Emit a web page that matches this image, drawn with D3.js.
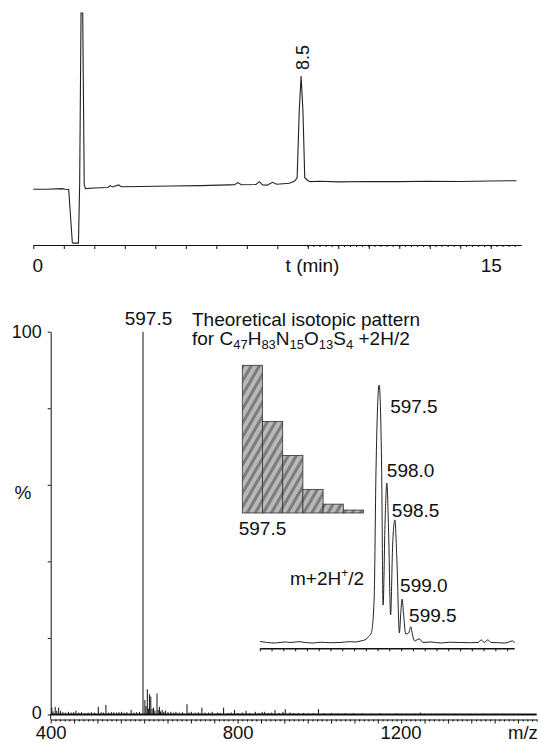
<!DOCTYPE html>
<html>
<head>
<meta charset="utf-8">
<script src="https://cdn.jsdelivr.net/npm/d3@7"></script>
<style>
  html, body { margin: 0; padding: 0; background: #fff; }
  svg text { font-family: "Liberation Sans", Arial, sans-serif; fill: #111; }
</style>
</head>
<body>
<div id="chart"></div>
<script>
// HPLC trace: [t (min), signal]
const chromTrace = [
  [0, 24.0], [0.45, 24.0], [0.95, 24.3], [1.05, 24.0], [1.16, 23.9],
  [1.28, 1.0], [1.31, 0.8], [1.48, 0.8], [1.52, 26], [1.565, 100], [1.62, 100],
  [1.67, 26], [1.71, 24.3], [2.0, 24.6], [2.45, 24.8], [2.52, 25.6], [2.6, 25.0],
  [2.8, 25.9], [2.88, 25.1], [3.5, 25.2], [4.5, 25.4], [5.5, 25.6], [6.4, 25.9],
  [6.6, 26.0], [6.71, 26.9], [6.82, 26.0], [7.3, 26.1], [7.41, 27.3], [7.52, 25.9],
  [7.67, 25.8], [7.84, 27.0], [7.98, 26.2], [8.4, 26.6], [8.57, 27.6], [8.65, 29],
  [8.72, 58], [8.78, 72.8], [8.84, 58], [8.9, 29], [9.0, 27.8], [9.08, 27.3],
  [9.4, 27.5], [10.0, 27.2], [11.0, 27.4], [12.0, 27.3], [13.0, 27.5], [14.0, 27.4],
  [15.0, 27.6], [15.84, 27.7]
];
const chromTickLabels = [0, 15];
const chromPeak = { t: 8.78, v: 72.8, label: "8.5" };

// ESI mass spectrum: [m/z, relative intensity %]
const specPeaks = [
  [402.4, 1.8], [405, 0.8], [409.6, 2.0], [413, 1.0], [417, 1.8], [421, 0.9],
  [426, 0.6], [432, 0.5], [438, 0.7], [444, 0.5], [449, 0.6], [454, 1.0],
  [460, 0.5], [466, 0.6], [473, 0.4], [480, 0.5], [487, 0.6], [494, 0.5],
  [501.9, 2.0], [508, 0.6], [513, 0.5], [518.2, 2.5], [524, 0.5], [530, 0.6],
  [535, 0.6], [541, 0.5], [546, 0.6], [551.5, 0.7], [557, 0.5], [563, 0.6],
  [572, 1.2], [578, 0.5], [584, 0.6], [590, 0.7], [597.5, 100], [601.6, 3.8],
  [604, 2.2], [606.8, 6.6], [609, 1.5], [611.3, 5.3], [614.2, 4.7], [617, 1.5],
  [620, 1.8], [623, 1.0], [627.5, 5.5], [630, 1.2], [632.6, 2.0], [635, 0.8],
  [638.6, 1.2], [642, 0.7], [645.9, 1.0], [651, 0.6], [657, 0.7], [663, 0.5],
  [668, 0.7], [675, 0.5], [682, 0.6], [691.7, 2.7], [696, 0.5], [701, 0.7],
  [709, 0.5], [716, 0.6], [723.5, 1.8], [730, 0.5], [738, 0.5], [745.6, 0.7],
  [756.7, 0.5], [763, 0.4], [770, 1.8], [779, 0.4], [786, 0.5], [793.5, 1.2],
  [801, 0.4], [810, 0.5], [818, 1.0], [826, 0.4], [837.9, 0.7], [846, 0.4],
  [852.6, 0.7], [858, 0.7], [866, 0.4], [873, 0.5], [880, 1.2], [889, 0.4],
  [897, 0.7], [902, 1.4], [912, 0.5], [920, 0.4], [930, 0.4], [941.4, 0.4],
  [952, 0.3], [962, 0.4], [973, 1.4], [985, 0.3], [1000.5, 0.4], [1015, 0.3],
  [1029.8, 0.3], [1048, 0.3], [1066.8, 0.3], [1085, 0.2], [1103.8, 0.3],
  [1122, 0.2], [1140.6, 0.3], [1160, 0.2], [1180, 0.2], [1191, 0.5], [1200, 0.2],
  [1214.5, 0.2], [1240, 0.2], [1266.3, 0.2], [1300, 0.2], [1325, 0.2],
  [1350, 0.2], [1369.6, 0.2], [1400, 0.2]
];
const specTickLabels = [400, 800, 1200];
const specYLabels = [0, 100];
const basePeakLabel = "597.5";

// theoretical isotopic pattern (bars)
const isoMz = ["597.5", "598.0", "598.5", "599.0", "599.5", "600.0"];
const isoTheory = [100, 62, 39, 16, 6, 2];

// measured isotopic cluster, profile mode
const profileMz = [
  589.92, 590.88, 591.5, 591.83, 592.4, 592.79, 593.3, 593.74, 594.4, 595.0,
  595.6, 596.0, 596.33, 596.6, 596.8, 597.0, 597.18, 597.3, 597.5, 597.66,
  597.75, 597.88, 597.99, 598.1, 598.23, 598.36, 598.5, 598.63, 598.79, 598.87,
  598.96, 599.06, 599.19, 599.38, 599.51, 599.64, 599.76, 600.05, 600.3, 600.8,
  601.4, 602.0, 602.66, 603.3, 603.8, 604.0, 604.19, 604.42, 604.63, 605.1,
  605.52, 606.0, 606.12
];
const profileIntensity = [
  0.6, 0, 0.4, 0.2, 0.5, 0.2, 0, 0.3, 0.1, 0.2,
  0.5, 0.4, 0.8, 1.2, 2.3, 3.9, 16.7, 67, 100, 67,
  14.7, 47.7, 62, 43.8, 10.9, 38, 47.7, 32.2, 3.9, 10.9,
  17, 10.9, 3.5, 3.9, 6.3, 2.7, 0.8, 1.6, 0.2, 0.4,
  0, 0.3, 0.2, 0.1, 0.2, 1.2, 0.2, 1.2, 0.2, 0.1,
  0, 0.8, 0
];
const clusterLabels = ["597.5", "598.0", "598.5", "599.0", "599.5"];
const clusterMz = [597.5, 597.99, 598.5, 598.96, 599.51];
const clusterHeight = [100, 62, 47.7, 17, 6.3];

const W = 541, H = 742;
const font = '"Liberation Sans", Arial, sans-serif';

const svg = d3.select('#chart')
    .append('svg')
    .attr('width', W)
    .attr('height', H);

// grey hatch for the theoretical bars
const hatch = svg.append('defs')
    .append('pattern')
    .attr('id', 'hatch')
    .attr('patternUnits', 'userSpaceOnUse')
    .attr('width', 7)
    .attr('height', 7)
    .attr('patternTransform', 'rotate(30)');
hatch.append('rect').attr('width', 7).attr('height', 7).attr('fill', '#b8b8b8');
hatch.append('rect').attr('width', 3).attr('height', 7).attr('fill', '#7c7c7c');

function styleAxis(g) {
    g.attr('font-family', font).attr('font-size', 19).attr('color', '#111');
    g.selectAll('text').attr('fill', '#111');
}

// ---------- chromatogram ----------
const xT = d3.scaleLinear().domain([0, 16]).range([33.3, 521.3]);
const yT = d3.scaleLinear().domain([0, 100]).range([245, 13]);

svg.append('path')
    .datum(chromTrace)
    .attr('fill', 'none')
    .attr('stroke', '#222')
    .attr('stroke-width', 1.1)
    .attr('d', d3.line().x(d => xT(d[0])).y(d => yT(d[1])));

const topAxis = svg.append('g')
    .attr('transform', `translate(0,${yT(0)})`)
    .call(d3.axisBottom(xT)
        .tickValues(d3.range(0, 16, 1))
        .tickSize(4)
        .tickSizeOuter(0)
        .tickFormat(d => chromTickLabels.includes(d) ? d : ''));
styleAxis(topAxis);
topAxis.selectAll('text').attr('y', 26.5).attr('dy', 0)
    .attr('dx', d => d === 0 ? 4 : 0);

// finer ticks on the right half
svg.append('g')
    .selectAll('line')
    .data(d3.range(9, 16, 0.2))
    .enter()
    .append('line')
    .attr('x1', d => xT(d)).attr('x2', d => xT(d))
    .attr('y1', yT(0)).attr('y2', yT(0) + 2)
    .attr('stroke', '#111');

svg.append('text')
    .attr('x', 312.5)
    .attr('y', 271.5)
    .attr('font-size', 19)
    .attr('text-anchor', 'middle')
    .text('t (min)');

svg.append('text')
    .attr('transform', `translate(${xT(chromPeak.t) + 8},${yT(chromPeak.v) - 6}) rotate(-90)`)
    .attr('font-size', 18)
    .text(chromPeak.label);

// ---------- mass spectrum ----------
const xS = d3.scaleLinear().domain([400, 1440]).range([50.7, 536.7]);
const yS = d3.scaleLinear().domain([0, 100]).range([714.5, 331.7]);

svg.append('g')
    .selectAll('line')
    .data(specPeaks)
    .enter()
    .append('line')
    .attr('x1', d => xS(d[0])).attr('x2', d => xS(d[0]))
    .attr('y1', yS(0)).attr('y2', d => yS(d[1]))
    .attr('stroke', '#111')
    .attr('stroke-width', 1);

// heavy baseline
svg.append('line')
    .attr('x1', xS(400)).attr('x2', xS(1440))
    .attr('y1', yS(0)).attr('y2', yS(0))
    .attr('stroke', '#111')
    .attr('stroke-width', 1.8);

const botAxis = svg.append('g')
    .attr('transform', `translate(0,${yS(0) + 5})`)
    .call(d3.axisBottom(xS)
        .tickValues(d3.range(400, 1441, 10))
        .tickSizeOuter(0)
        .tickFormat(d => specTickLabels.includes(d) ? d : ''));
styleAxis(botAxis);
botAxis.attr('font-size', 18.5);
botAxis.selectAll('.tick line').attr('y2', d => d % 50 === 0 ? 4 : 2);
botAxis.selectAll('text').attr('y', 19).attr('dy', 0)
    .attr('dx', d => d === 1200 ? -24 : 0);

const leftAxis = svg.append('g')
    .attr('transform', `translate(${xS(400)},0)`)
    .call(d3.axisLeft(yS)
        .tickValues(d3.range(0, 101, 20))
        .tickSize(3)
        .tickPadding(6)
        .tickSizeOuter(0)
        .tickFormat(d => specYLabels.includes(d) ? d : ''));
styleAxis(leftAxis);
leftAxis.attr('font-size', 18);
leftAxis.selectAll('text').attr('dy', d => d === 0 ? '0.2em' : '0.32em');
svg.append('line')
    .attr('x1', xS(400)).attr('x2', xS(400))
    .attr('y1', yS(0)).attr('y2', yS(0) + 5)
    .attr('stroke', '#111');

svg.append('text')
    .attr('x', 23).attr('y', 499)
    .attr('font-size', 19)
    .attr('text-anchor', 'middle')
    .text('%');

svg.append('text')
    .attr('x', 508).attr('y', 738.5)
    .attr('font-size', 18.5)
    .text('m/z');

svg.append('text')
    .attr('x', xS(597.5) + 5.5)
    .attr('y', 325)
    .attr('font-size', 19)
    .attr('text-anchor', 'middle')
    .text(basePeakLabel);

// ---------- inset title ----------
svg.append('text')
    .attr('x', 192).attr('y', 326)
    .attr('font-size', 19)
    .text('Theoretical isotopic pattern');

const formula = svg.append('text')
    .attr('x', 192).attr('y', 345)
    .attr('font-size', 19);
[['for C', 0], ['47', 1], ['H', 0], ['83', 1], ['N', 0], ['15', 1],
 ['O', 0], ['13', 1], ['S', 0], ['4', 1], [' +2H/2', 0]].forEach(([s, sub], i, arr) => {
    const prevSub = i > 0 ? arr[i - 1][1] : 0;
    formula.append('tspan')
        .attr('font-size', sub ? 13 : 19)
        .attr('dy', sub === prevSub ? 0 : (sub ? 4 : -4))
        .text(s);
});

// ---------- inset bars ----------
const xB = d3.scaleBand().domain(isoMz).range([242.3, 363.5]).padding(0);
const yB = d3.scaleLinear().domain([0, 100]).range([513, 365.3]);

svg.append('g')
    .selectAll('rect')
    .data(isoTheory)
    .enter()
    .append('rect')
    .attr('x', (d, i) => xB(isoMz[i]))
    .attr('y', d => yB(d))
    .attr('width', xB.bandwidth())
    .attr('height', d => yB(0) - yB(d))
    .attr('fill', 'url(#hatch)')
    .attr('stroke', '#333')
    .attr('stroke-width', 0.8);

svg.append('text')
    .attr('x', xB(isoMz[1]))
    .attr('y', 535)
    .attr('font-size', 19)
    .attr('text-anchor', 'middle')
    .text(isoMz[0]);

// ---------- inset profile ----------
const xP = d3.scaleLinear().domain([589.9, 606.1]).range([259.8, 514.2]);
const yP = d3.scaleLinear().domain([0, 100]).range([643, 385]);

svg.append('path')
    .datum(d3.zip(profileMz, profileIntensity))
    .attr('fill', 'none')
    .attr('stroke', '#222')
    .attr('stroke-width', 1)
    .attr('d', d3.line().curve(d3.curveMonotoneX).x(d => xP(d[0])).y(d => yP(d[1])));

const insetAxis = svg.append('g')
    .attr('transform', `translate(0,648.3)`)
    .call(d3.axisBottom(xP)
        .tickValues(d3.range(589.9, 606.2, 0.75))
        .tickSize(3)
        .tickSizeOuter(0)
        .tickFormat(''));
styleAxis(insetAxis);
insetAxis.select('.domain').attr('stroke-width', 1.6);

const nudge = [[11, 27.7], [0, -6], [-3, -3.3], [-2, -7.3], [-1.6, -5]];
svg.append('g')
    .selectAll('text')
    .data(clusterLabels)
    .enter()
    .append('text')
    .attr('x', (d, i) => xP(clusterMz[i]) + nudge[i][0])
    .attr('y', (d, i) => yP(clusterHeight[i]) + nudge[i][1])
    .attr('font-size', 19)
    .text(d => d);

const ion = svg.append('text')
    .attr('x', 290).attr('y', 585)
    .attr('font-size', 19);
ion.append('tspan').text('m+2H');
ion.append('tspan').attr('font-size', 12).attr('dy', -8).text('+');
ion.append('tspan').attr('dy', 8).text('/2');
</script>
</body>
</html>
